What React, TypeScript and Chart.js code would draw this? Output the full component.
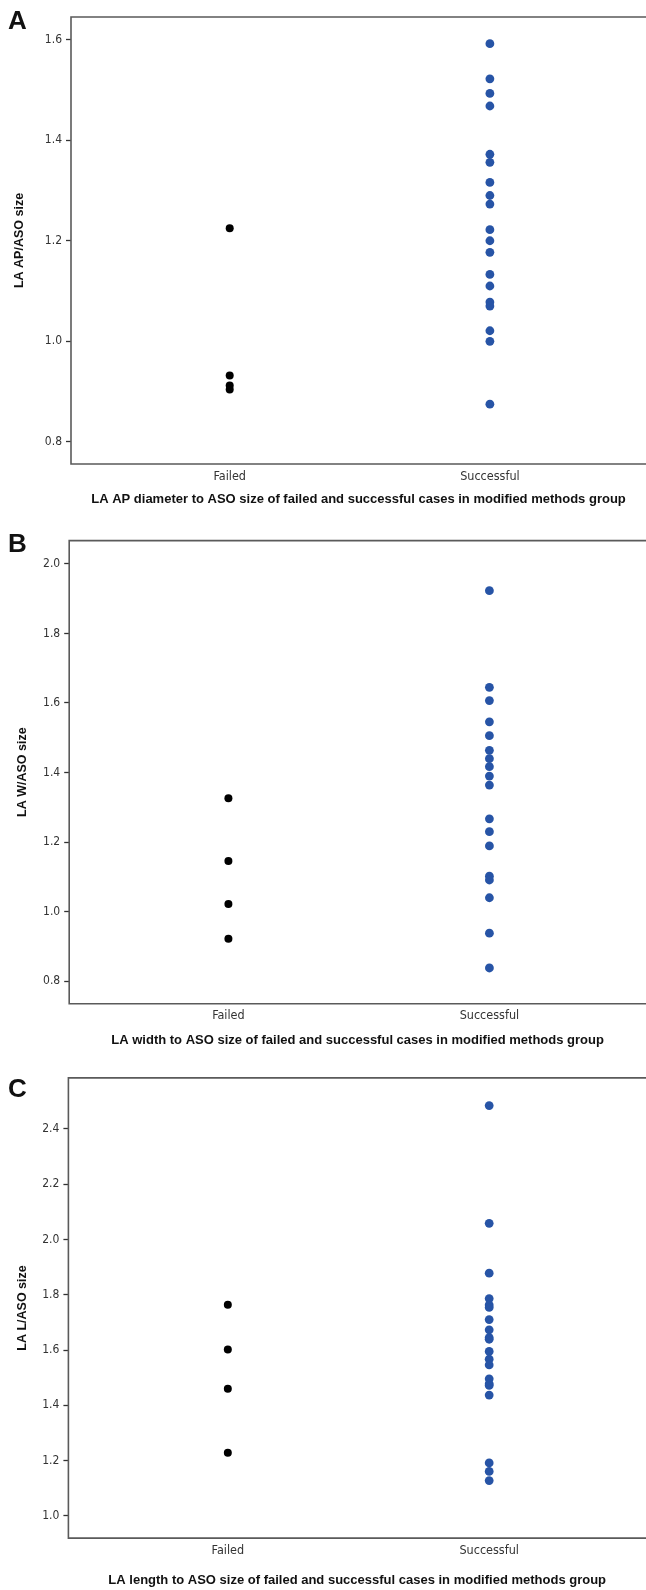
import React, { useEffect, useRef } from 'react';
import { Chart, registerables } from 'chart.js';

Chart.register(...registerables);

// ---- data ----
const categories = ['Failed', 'Successful'];

const failedA = [1.225, 0.932, 0.912, 0.904];
const successA = [1.592, 1.522, 1.493, 1.468, 1.372, 1.356, 1.316, 1.29, 1.273, 1.222, 1.2, 1.177, 1.133, 1.11, 1.078, 1.07, 1.021, 1.0, 0.875];

const failedB = [1.326, 1.146, 1.022, 0.922];
const successB = [1.923, 1.645, 1.607, 1.546, 1.506, 1.464, 1.44, 1.417, 1.39, 1.364, 1.267, 1.23, 1.189, 1.102, 1.091, 1.04, 0.938, 0.838];

const failedC = [1.764, 1.602, 1.46, 1.229];
const successC = [2.484, 2.058, 1.878, 1.786, 1.763, 1.754, 1.71, 1.673, 1.645, 1.639, 1.595, 1.567, 1.546, 1.496, 1.478, 1.472, 1.437, 1.192, 1.161, 1.128];

const yTicksA = [0.8, 1.0, 1.2, 1.4, 1.6];
const yTicksB = [0.8, 1.0, 1.2, 1.4, 1.6, 1.8, 2.0];
const yTicksC = [1.0, 1.2, 1.4, 1.6, 1.8, 2.0, 2.2, 2.4];

const yTitles = ['LA AP/ASO size', 'LA W/ASO size', 'LA L/ASO size'];
const captions = [
  'LA AP diameter to ASO size of failed and successful cases in modified methods group',
  'LA width to ASO size of failed and successful cases in modified methods group',
  'LA length to ASO size of failed and successful cases in modified methods group',
];
const panelLetters = ['A', 'B', 'C'];

// ---- styles ----
const TICK_FONT = "'DejaVu Sans Condensed', 'Liberation Sans Narrow', sans-serif";
const BOLD_FONT = "'Liberation Sans', Arial, Helvetica, sans-serif";
const BLUE = '#2754a6';
const FRAME = '#5a5a5a';

const panels = [
  { top: 0, height: 520, padTop: 17, leftWidth: 71, xAxisHeight: 56, xLabelPad: 5.5, captionPad: 13.2, yTitlePad: 12.5,
    yMin: 0.756, yMax: 1.645, yTicks: yTicksA, failed: failedA, success: successA, letterTop: 7.3 },
  { top: 520, height: 540, padTop: 20.6, leftWidth: 69.2, xAxisHeight: 56.2, xLabelPad: 4.2, captionPad: 12.2, yTitlePad: 15.5,
    yMin: 0.735, yMax: 2.067, yTicks: yTicksB, failed: failedB, success: successB, letterTop: 529.7 },
  { top: 1060, height: 530, padTop: 17.9, leftWidth: 68.4, xAxisHeight: 51.9, xLabelPad: 5.4, captionPad: 2.2, yTitlePad: 15.5,
    yMin: 0.92, yMax: 2.584, yTicks: yTicksC, failed: failedC, success: successC, letterTop: 1075 },
];

const framePlugin = {
  id: 'frame',
  beforeDatasetsDraw(chart: any) {
    const { ctx, chartArea } = chart;
    const { left, top, right, bottom } = chartArea;
    ctx.save();
    ctx.strokeStyle = FRAME;
    ctx.lineWidth = 1.6;
    ctx.beginPath();
    ctx.moveTo(right + 2, top);
    ctx.lineTo(left, top);
    ctx.lineTo(left, bottom);
    ctx.lineTo(right + 2, bottom);
    ctx.stroke();
    ctx.restore();
  },
};

function Panel({ idx }: { idx: number }) {
  const ref = useRef<HTMLCanvasElement>(null);
  const cfg = panels[idx];
  useEffect(() => {
    if (!ref.current) return;
    const chart = new Chart(ref.current, {
      type: 'scatter',
      data: {
        datasets: [
          {
            data: cfg.failed.map((v) => ({ x: 0, y: v })),
            backgroundColor: '#000000',
            borderWidth: 0,
            pointRadius: 4,
          },
          {
            data: cfg.success.map((v) => ({ x: 1, y: v })),
            backgroundColor: BLUE,
            borderWidth: 0,
            pointRadius: 4.4,
          },
        ],
      },
      options: {
        animation: false,
        responsive: false,
        maintainAspectRatio: false,
        devicePixelRatio: 1,
        layout: { autoPadding: false, padding: { top: cfg.padTop, left: 0, right: 0, bottom: 0 } },
        plugins: { legend: { display: false }, tooltip: { enabled: false } },
        scales: {
          x: {
            type: 'linear',
            bounds: 'data',
            min: -0.61,
            max: 1.6,
            afterBuildTicks: (s: any) => {
              s.ticks = categories.map((_, i) => ({ value: i }));
            },
            afterFit: (s: any) => {
              s.height = cfg.xAxisHeight;
            },
            grid: { display: false, drawTicks: false },
            border: { display: false },
            ticks: {
              autoSkip: false,
              maxRotation: 0,
              padding: cfg.xLabelPad,
              color: '#333333',
              font: { family: TICK_FONT, size: 12.5 },
              callback: (_v: any, i: number) => categories[i],
            },
            title: {
              display: true,
              text: captions[idx],
              color: '#111111',
              font: { family: BOLD_FONT, size: 13, weight: 'bold' },
              padding: { top: 0, bottom: cfg.captionPad },
            },
          },
          y: {
            type: 'linear',
            bounds: 'data',
            min: cfg.yMin,
            max: cfg.yMax,
            afterBuildTicks: (s: any) => {
              s.ticks = cfg.yTicks.map((v) => ({ value: v }));
            },
            afterFit: (s: any) => {
              s.width = cfg.leftWidth;
            },
            grid: {
              display: true,
              drawOnChartArea: false,
              drawTicks: true,
              tickLength: 5,
              tickColor: '#333333',
              tickWidth: 1.3,
            },
            border: { display: false },
            ticks: {
              padding: 4,
              color: '#333333',
              font: { family: TICK_FONT, size: 12 },
              callback: (v: any) => Number(v).toFixed(1),
            },
            title: {
              display: true,
              text: yTitles[idx],
              color: '#111111',
              font: { family: BOLD_FONT, size: 12.5, weight: 'bold' },
              padding: { top: cfg.yTitlePad, bottom: 0 },
            },
          },
        },
      } as any,
      plugins: [framePlugin],
    });
    return () => chart.destroy();
  }, []);
  return (
    <canvas
      ref={ref}
      width={646}
      height={cfg.height}
      style={{ position: 'absolute', left: 0, top: cfg.top, width: 646, height: cfg.height, display: 'block' }}
    />
  );
}

export default function App() {
  return (
    <div style={{ position: 'absolute', left: 0, top: 0, width: 646, height: 1590, background: '#ffffff', overflow: 'hidden' }}>
      {panels.map((p, i) => (
        <React.Fragment key={i}>
          <Panel idx={i} />
          <div
            style={{
              position: 'absolute',
              left: 8,
              top: p.letterTop,
              fontFamily: BOLD_FONT,
              fontWeight: 'bold',
              fontSize: 26,
              lineHeight: '26px',
              color: '#111111',
            }}
          >
            {panelLetters[i]}
          </div>
        </React.Fragment>
      ))}
    </div>
  );
}
